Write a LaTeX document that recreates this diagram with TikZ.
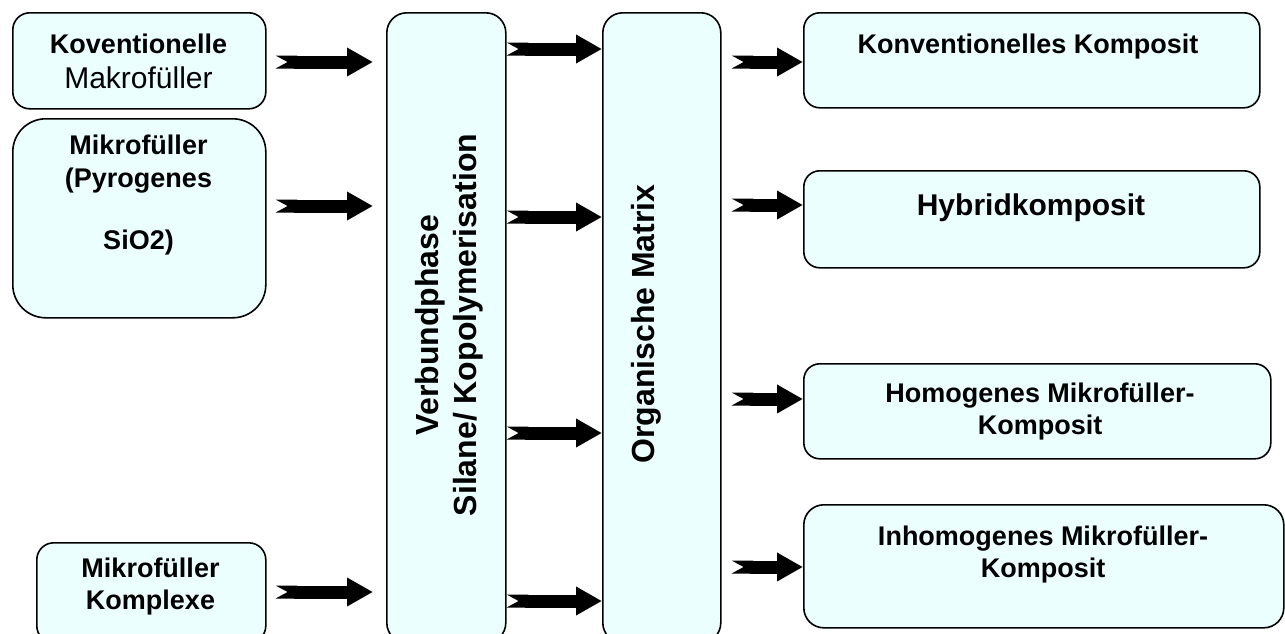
\documentclass[tikz,border=0pt]{standalone}
\usepackage{fontspec}
\setmainfont{Liberation Sans}
\usepackage{tikz}
\usepackage{xcolor}
\usetikzlibrary{arrows.meta, positioning}

\definecolor{paleblue}{RGB}{236,255,255}

\begin{document}
\begin{tikzpicture}[
        x=1pt, y=-1pt,
        panel/.style={rectangle, draw, line width=1.6pt, fill=paleblue, rounded corners=#1, anchor=north west, inner sep=0pt},
        panel/.default=17pt,
        boxtext/.style={anchor=base, align=center, font=\bfseries\fontsize{27}{32}\selectfont},
        coltext/.style={rotate=90, align=center, font=\bfseries\fontsize{32}{38}\selectfont},
        fatarrow/.style={{Triangle Cap[reversed, length=12pt]}-{Triangle[length=26pt, width=27pt]}, line width=13pt, black}
    ]
    \useasboundingbox (0,0) rectangle (1285,633);
    \clip (0,0) rectangle (1285,633);

    % --- Filler (left) ---
    \node[panel, minimum width=253pt, minimum height=96pt] (konvmak) at (12,12) {};
    \node[panel=33pt, minimum width=253pt, minimum height=199pt] (pyro) at (12,118) {};
    \node[panel, minimum width=229pt, minimum height=100pt] (komplex) at (36,542) {};

    % --- Columns ---
    \node[panel=20pt, minimum width=119pt, minimum height=630pt] (verbund) at (386,12) {};
    \node[panel=20pt, minimum width=118pt, minimum height=630pt] (organ) at (602,12) {};

    % --- Composites (right) ---
    \node[panel=16pt, minimum width=456pt, minimum height=95pt] (konvkomp) at (803,12) {};
    \node[panel=16pt, minimum width=456pt, minimum height=97pt] (hybrid) at (803,170) {};
    \node[panel=16pt, minimum width=467pt, minimum height=95pt] (homogen) at (803,363) {};
    \node[panel=20pt, minimum width=480pt, minimum height=123pt] (inhomogen) at (803,504) {};

    % --- Texts ---
    \node[boxtext] (konvmak_a) at (138.5,53) {Koventionelle};
    \node[boxtext, font=\fontsize{30}{36}\selectfont] (konvmak_b) at (138.5,88) {Makrofüller};
    \node[boxtext] (pyro_a) at (138.5,154) {Mikrofüller};
    \node[boxtext] (pyro_b) at (138.5,187) {(Pyrogenes};
    \node[boxtext] (pyro_c) at (138.5,249) {SiO2)};
    \node[boxtext] (komplex_a) at (150.5,577) {Mikrofüller};
    \node[boxtext] (komplex_b) at (150.5,609) {Komplexe};

    \node[coltext] (verbund_t) at (449,325) {Verbundphase\\Silane/ Kopolymerisation};
    \node[coltext] (organ_t) at (646,324) {Organische Matrix};

    \node[boxtext] (konvkomp_t) at (1028,53) {Konventionelles Komposit};
    \node[boxtext, font=\bfseries\fontsize{30}{36}\selectfont] (hybrid_t) at (1031,215) {Hybridkomposit};
    \node[boxtext] (homogen_a) at (1040,402) {Homogenes Mikrofüller-};
    \node[boxtext] (homogen_b) at (1040,434) {Komposit};
    \node[boxtext] (inhomogen_a) at (1043,545) {Inhomogenes Mikrofüller-};
    \node[boxtext] (inhomogen_b) at (1043,577) {Komposit};

    % --- Connections ---
    \draw[fatarrow, shorten <=9pt, shorten >=13pt] (konvmak.east |- 0,62) -- (verbund.west |- 0,62);
    \draw[fatarrow, shorten <=9pt, shorten >=13pt] (pyro.east |- 0,206) -- (verbund.west |- 0,206);
    \draw[fatarrow, shorten <=9pt, shorten >=13pt] (komplex.east |- 0,592) -- (verbund.west |- 0,592);

    \foreach \y in {49,217,433,601}
        \draw[fatarrow] (verbund.east |- 0,\y) -- (organ.west |- 0,\y);

    \draw[fatarrow, shorten <=10pt] (organ.east |- 0,62) -- (konvkomp.west |- 0,62);
    \draw[fatarrow, shorten <=10pt] (organ.east |- 0,205) -- (hybrid.west |- 0,205);
    \draw[fatarrow, shorten <=10pt] (organ.east |- 0,399) -- (homogen.west |- 0,399);
    \draw[fatarrow, shorten <=10pt] (organ.east |- 0,567) -- (inhomogen.west |- 0,567);

\end{tikzpicture}
\end{document}
